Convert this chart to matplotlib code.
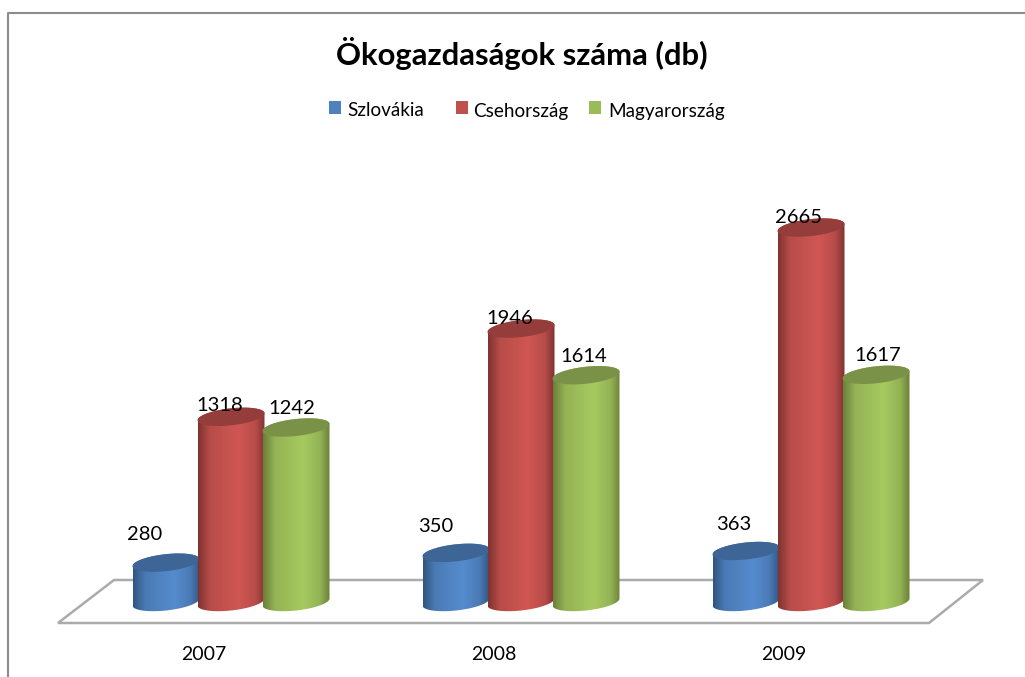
import numpy as np
import matplotlib
matplotlib.use('Agg')
import matplotlib.pyplot as plt
from matplotlib.patches import Polygon, PathPatch
from matplotlib.path import Path
from matplotlib.colors import LinearSegmentedColormap

plt.rcParams['font.family'] = ['Lato', 'DejaVu Sans']

years = ['2007', '2008', '2009']
szlovakia = [280, 350, 363]
csehorszag = [1318, 1946, 2665]
magyarorszag = [1242, 1614, 1617]
series_names = ['Szlovákia', 'Csehország', 'Magyarország']

# szinek: jelmagyarazat, sotet szel, kozep, vilagos csik, fedlap
colors = ['#4F81BD', '#C0504D', '#9BBB59']
edge_colors = ['#2F5580', '#7E3331', '#6A8038']
mid_colors = ['#4A7AB4', '#B84C49', '#94B355']
light_colors = ['#558CCF', '#D05753', '#A6CA60']
top_colors = ['#3D6596', '#943D3B', '#7A9247']

# egy pixel hany adategyseg
W, H = 1025, 677
px_x = 1 / 290
px_y = 1 / 0.1405
x0_px, y0_px = 231, 602

fig = plt.figure(figsize=(W / 100, H / 100), dpi=100)
ax = fig.add_axes([0, 0, 1, 1])
ax.set_xlim(-x0_px * px_x, (W - x0_px) * px_x)
ax.set_ylim((y0_px - H) * px_y, y0_px * px_y)
ax.axis('off')


def to_data(xp, yp):
    return (xp - x0_px) * px_x, (y0_px - yp) * px_y


# keret
frame = [to_data(8, H), to_data(8, 13), to_data(W, 13)]
ax.plot(*zip(*frame), color='#8C8C8C', lw=1.5, zorder=1)

# padlo
floor = [to_data(58, 623), to_data(929, 623), to_data(983, 580), to_data(114, 580)]
ax.add_patch(Polygon(floor, closed=True, fc='white', ec='#ABABAB', lw=1.8, zorder=2))


def ellipse_points(cx, cy, t):
    # dontott ellipszis, t 0-tol pi-ig megy
    rx = 33.5 * px_x
    ry = 8.5 * px_y
    tilt = -3.5 * px_y
    xs = cx + rx * np.cos(t)
    ys = cy + ry * np.sin(t) + tilt * -np.cos(t)
    return xs, ys


def cylinder(cx, value, idx):
    t_top = np.linspace(0, np.pi, 50)
    t_bot = np.linspace(np.pi, 2 * np.pi, 50)
    xt, yt = ellipse_points(cx, value, t_top)
    xb, yb = ellipse_points(cx, 0, t_bot)
    body = np.vstack([np.c_[xt, yt], np.c_[xb, yb], [[xt[0], yt[0]]]])
    cmap = LinearSegmentedColormap.from_list(
        'c', [(0, edge_colors[idx]), (0.18, mid_colors[idx]),
              (0.6, light_colors[idx]), (0.85, mid_colors[idx]),
              (1, edge_colors[idx])], N=256)
    grad = np.linspace(0, 1, 256).reshape(1, -1)
    rx = 33.5 * px_x
    im = ax.imshow(grad, cmap=cmap, aspect='auto', zorder=3 + cx,
                   extent=[cx - rx, cx + rx, -100, 3000], interpolation='bilinear')
    clip = PathPatch(Path(body), transform=ax.transData, fc='none', ec='none')
    ax.add_patch(clip)
    im.set_clip_path(clip)
    # fedlap
    t = np.linspace(0, 2 * np.pi, 100)
    xe, ye = ellipse_points(cx, value, t)
    ax.fill(xe, ye, color=top_colors[idx], lw=0, zorder=3 + cx + 0.001)


offset = 65 * px_x
all_series = [szlovakia, csehorszag, magyarorszag]
for idx, vals in enumerate(all_series):
    for g, v in enumerate(vals):
        cylinder(g + (idx - 1) * offset, v, idx)
ax.set_xlim(-x0_px * px_x, (W - x0_px) * px_x)
ax.set_ylim((y0_px - H) * px_y, y0_px * px_y)

# cimkek eltolasa pixelben, kezzel arrebb voltak huzva az eredetiben
label_dx = [[-21, -11, -4], [-20, -11, -2], [-12, -13, 2]]
label_dy = [[28, 11, 19], [26, 10, 19], [26, 10, 19]]
for idx, vals in enumerate(all_series):
    for g, v in enumerate(vals):
        ax.annotate(str(v), (g + (idx - 1) * offset, v),
                    xytext=(label_dx[g][idx], label_dy[g][idx]),
                    textcoords='offset pixels', ha='center', va='center',
                    fontsize=14.5, color='black', zorder=20)

# evszamok
for g, y in enumerate(years):
    xt, yt = to_data(204 + g * 290, 655)
    ax.text(xt, yt, y, ha='center', va='center', fontsize=14, color='black')

# cim
xt, yt = to_data(522, 54)
ax.text(xt, yt, 'Ökogazdaságok száma (db)', ha='center', va='center',
        fontsize=22.3, fontweight='bold', color='black')

# jelmagyarazat
leg_x = [329, 456, 589]
text_x = [347, 473, 608]
for name, c, lx, tx in zip(series_names, colors, leg_x, text_x):
    ax.add_patch(Polygon([to_data(lx, 101), to_data(lx + 12, 101),
                          to_data(lx + 12, 114), to_data(lx, 114)],
                         closed=True, fc=c, ec='none'))
    xt, yt = to_data(tx, 111)
    ax.text(xt, yt, name, ha='left', va='center', fontsize=13.6, color='black')

fig.savefig('out.png', dpi=100)
